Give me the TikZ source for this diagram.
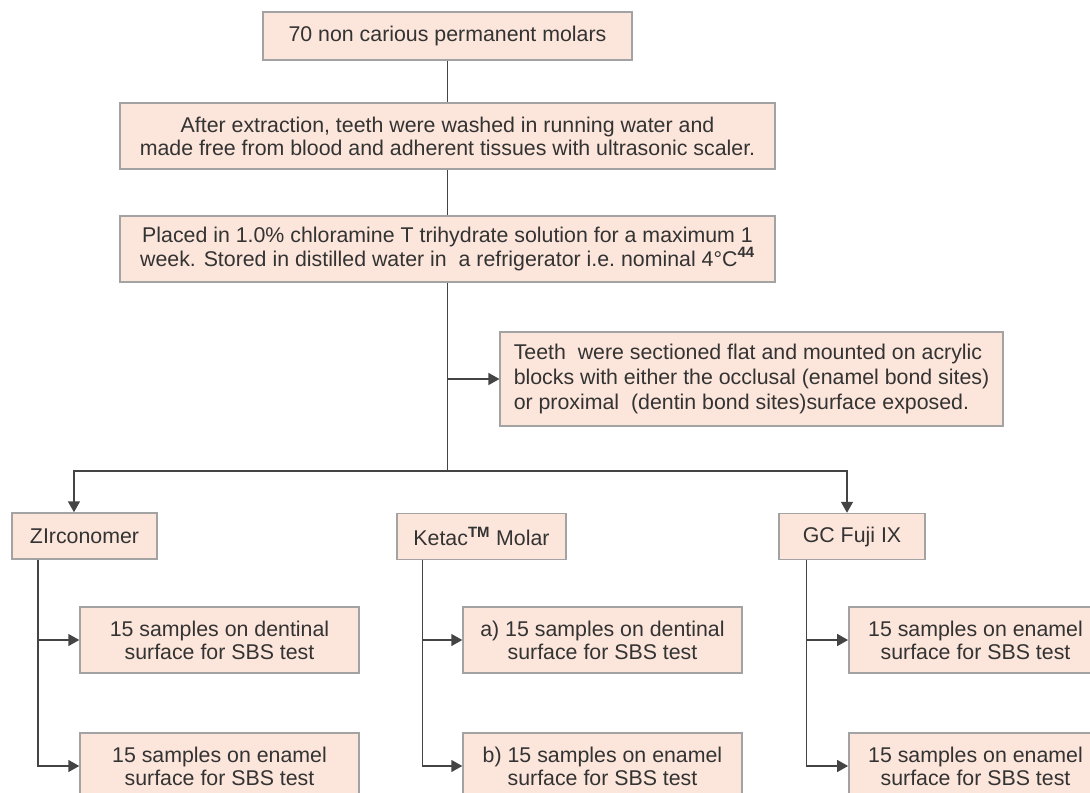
\documentclass[tikz,border=0pt]{standalone}
\usepackage{fontspec}
\setmainfont{Liberation Sans}
\usetikzlibrary{arrows.meta}
\definecolor{molarfill}{HTML}{FCE5DA}
\definecolor{molarline}{HTML}{A3A3A3}
\definecolor{molarink}{HTML}{333333}
\definecolor{molarwire}{HTML}{444444}
\tikzset{
  flowbox/.style={
    rectangle,
    draw=molarline,
    fill=molarfill,
    line width=1.1pt,
    align=center,
    inner sep=2pt,
    text=molarink,
    font=\fontsize{16}{17.4}\selectfont
  },
  flowside/.style={flowbox, align=left},
  flowpick/.style={flowbox, minimum height=34.5pt},
  flowsample/.style={flowbox, minimum width=209.25pt, minimum height=49.5pt},
  flowline/.style={line width=1.1pt, draw=molarwire},
  flowarrow/.style={flowline, -{Triangle[length=8.25pt,width=9pt]}}
}
\begin{document}
\begin{tikzpicture}[x=0.75pt,y=-0.75pt]
\useasboundingbox (0,0) rectangle (1090,793);
\clip (0,0) rectangle (1090,793);
\node[flowbox, minimum width=276.75pt, minimum height=36pt] (molars) at (447.5,36) {70 non carious permanent molars};
\node[flowbox, minimum width=491pt, minimum height=49.5pt] (washed) at (447.5,136) {After extraction, teeth were washed in running water and\\made free from blood and adherent tissues with ultrasonic scaler.};
\node[flowbox, minimum width=491pt, minimum height=49.5pt] (stored) at (447.5,249) {Placed in 1.0\% chloramine T trihydrate solution for a maximum 1\\week. Stored in distilled water in\ \ a refrigerator i.e.\ nominal 4°C\textsuperscript{\textbf{44}}};
\node[flowside, minimum width=377pt, minimum height=70.5pt, font=\fontsize{16}{18.4}\selectfont] (mounted) at (751.5,379) {Teeth\ \ were sectioned flat and mounted on acrylic\\blocks with either the occlusal (enamel bond sites)\\or proximal\ \ (dentin bond sites)surface exposed.};
\coordinate (split) at (447.5,471);
% three cements
\node[flowpick, minimum width=108.75pt] (zir) at (84.5,536) {ZIrconomer};
\node[flowpick, minimum width=126.75pt] (ketac) at (481.5,536.5) {Ketac\textsuperscript{\textbf{TM}} Molar};
\node[flowpick, minimum width=109.5pt] (fuji) at (852,536.5) {GC Fuji IX};
% samples per cement
\node[flowsample] (zirdent) at (219.5,640) {15 samples on dentinal\\surface for SBS test};
\node[flowsample] (zirenam) at (219.5,766) {15 samples on enamel\\surface for SBS test};
\node[flowsample] (ketacdent) at (602.5,640) {a) 15 samples on dentinal\\surface for SBS test};
\node[flowsample] (ketacenam) at (602.5,766) {b) 15 samples on enamel\\surface for SBS test};
\node[flowsample, minimum width=190pt] (fujienam) at (975.5,640) {15 samples on enamel\\surface for SBS test};
\node[flowsample, minimum width=190pt] (fujienamb) at (975.5,766) {15 samples on enamel\\surface for SBS test};
\draw[flowline] (molars) -- (washed);
\draw[flowline] (washed) -- (stored);
\draw[flowline] (stored.south) -- (split);
\draw[flowarrow] (stored.south |- mounted.west) -- (mounted.west);
\draw[flowarrow] (split) -| ([xshift=-7.9pt]zir.north);
\draw[flowarrow] (split) -| ([xshift=-3.75pt]fuji.north);
\draw[flowarrow] ([xshift=20pt]zir.south west) |- (zirdent.west);
\draw[flowarrow] ([xshift=20pt]zir.south west) |- (zirenam.west);
\draw[flowarrow] ([xshift=19.5pt]ketac.south west) |- (ketacdent.west);
\draw[flowarrow] ([xshift=19.5pt]ketac.south west) |- (ketacenam.west);
\draw[flowarrow] ([xshift=21pt]fuji.south west) |- (fujienam.west);
\draw[flowarrow] ([xshift=21pt]fuji.south west) |- (fujienamb.west);
\end{tikzpicture}
\end{document}
